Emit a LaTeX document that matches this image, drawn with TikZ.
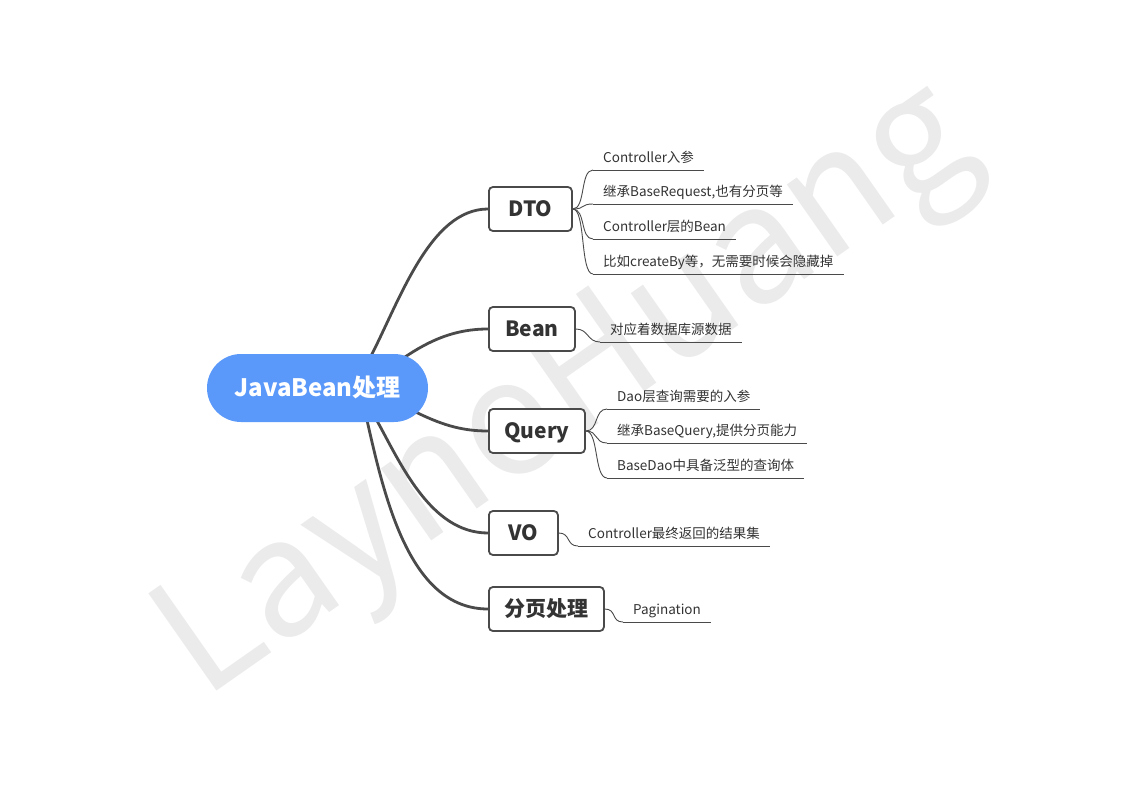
\documentclass[tikz,border=0pt]{standalone}
\usepackage{fontspec}
\setmainfont{Noto Sans CJK SC}
\usetikzlibrary{backgrounds}
\definecolor{boxline}{HTML}{4A4A4A}
\definecolor{txt}{HTML}{333333}
\definecolor{rootblue}{HTML}{5A98FA}
\definecolor{wmark}{HTML}{EBEBEB}
\tikzset{
  rootbox/.style={fill=rootblue, rounded corners=34pt, minimum width=221pt, minimum height=68pt, inner sep=0pt, text height=17pt, text depth=0pt, text=white, font=\fontsize{24pt}{28pt}\selectfont\bfseries},
  topicbox/.style={draw=boxline, line width=1.8pt, fill=white, rounded corners=4pt, minimum height=44pt, inner sep=0pt, text height=15pt, text depth=0pt, anchor=west, text=txt, font=\fontsize{21pt}{24pt}\selectfont\bfseries},
  leaf/.style={anchor=south west, inner xsep=10pt, inner ysep=4pt, text height=10pt, text depth=3pt, text=txt, font=\fontsize{13.5pt}{15pt}\selectfont},
  mainline/.style={draw=boxline, line width=2.8pt},
  subline/.style={draw=boxline, line width=0.9pt},
}
\newcommand{\uline}[1]{\draw[subline] (#1.south west) -- (#1.south east);}
\begin{document}
\begin{tikzpicture}[x=1pt, y=-1pt]
\useasboundingbox (0,0) rectangle (1123,794);
% topics
\node[rootbox] (root) at (317.5,388) {JavaBean处理};
\node[topicbox, minimum width=83pt] (dto) at (488,209) {DTO};
\node[topicbox, minimum width=86pt] (bean) at (488,329) {Bean};
\node[topicbox, minimum width=96pt] (query) at (488,431) {Query};
\node[topicbox, minimum width=69pt] (vo) at (488,533) {VO};
\node[topicbox, minimum width=115pt] (page) at (488,609) {分页处理};
% leaves
\node[leaf] (d1) at (593,170) {Controller入参};
\node[leaf] (d2) at (593,204) {继承BaseRequest,也有分页等};
\node[leaf] (d3) at (593,239) {Controller层的Bean};
\node[leaf] (d4) at (593,274) {比如createBy等，无需要时候会隐藏掉};
\node[leaf] (b1) at (600,342) {对应着数据库源数据};
\node[leaf] (q1) at (607,409) {Dao层查询需要的入参};
\node[leaf] (q2) at (607,443) {继承BaseQuery,提供分页能力};
\node[leaf] (q3) at (607,478) {BaseDao中具备泛型的查询体};
\node[leaf] (v1) at (578,546) {Controller最终返回的结果集};
\node[leaf] (p1) at (623,622) {Pagination};
\foreach \n in {d1,d2,d3,d4,b1,q1,q2,q3,v1,p1} {\uline{\n}}
% leaf connectors
\foreach \n in {d1,d2,d3,d4} {\draw[subline] (dto.east) .. controls +(13,0) and +(-13,0) .. (\n.south west);}
\draw[subline] (bean.east) .. controls +(13,0) and +(-13,0) .. (b1.south west);
\foreach \n in {q1,q2,q3} {\draw[subline] (query.east) .. controls +(13,0) and +(-13,0) .. (\n.south west);}
\draw[subline] (vo.east) .. controls +(12,0) and +(-12,0) .. (v1.south west);
\draw[subline] (page.east) .. controls +(12,0) and +(-12,0) .. (p1.south west);
\begin{scope}[on background layer]
  \node[text=wmark, rotate=35, anchor=base west, inner sep=0pt, font=\fontsize{162pt}{162pt}\selectfont] (wm) at (203,701) {LayneHuang};
  \coordinate (sdto) at ([shift={(52,-29)}]root.center);
  \coordinate (sbean) at ([shift={(86,-30)}]root.center);
  \coordinate (squery) at ([shift={(96,23)}]root.center);
  \coordinate (svo) at ([shift={(58,30)}]root.center);
  \coordinate (spage) at ([shift={(49,30)}]root.center);
  \draw[mainline] (sdto) .. controls (400,300) and (430,209) .. (dto.west);
  \draw[mainline] (sbean) .. controls (430,340) and (455,329) .. (bean.west);
  \draw[mainline] (squery) .. controls (440,424) and (460,431) .. (query.west);
  \draw[mainline] (svo) .. controls (400,462) and (430,533) .. (vo.west);
  \draw[mainline] (spage) .. controls (385,500) and (410,609) .. (page.west);
\end{scope}
\end{tikzpicture}
\end{document}
